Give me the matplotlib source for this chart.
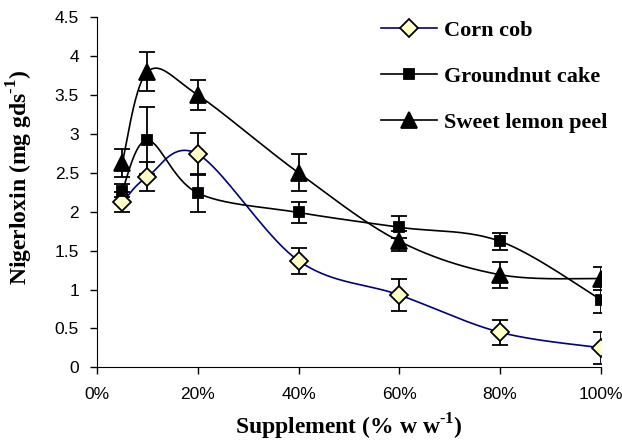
import numpy as np
import matplotlib
matplotlib.use("Agg")
import matplotlib.pyplot as plt

plt.rcParams["font.family"] = "Liberation Sans"
plt.rcParams["mathtext.fontset"] = "custom"
plt.rcParams["mathtext.rm"] = "Liberation Serif:bold"
plt.rcParams["mathtext.bf"] = "Liberation Serif:bold"

supplement = [5, 10, 20, 40, 60, 80, 100]

corn_cob = [2.12, 2.45, 2.74, 1.37, 0.93, 0.45, 0.25]
corn_cob_err = [0.13, 0.19, 0.27, 0.17, 0.21, 0.16, 0.21]

groundnut = [2.27, 2.92, 2.24, 1.99, 1.80, 1.62, 0.87]
groundnut_err = [0.08, 0.43, 0.25, 0.14, 0.14, 0.11, 0.17]

lemon = [2.63, 3.80, 3.50, 2.50, 1.62, 1.19, 1.14]
lemon_err = [0.18, 0.25, 0.19, 0.24, 0.13, 0.17, 0.15]


def smooth(x, y, n=40):
    # catmull-rom through the points, like excel's smoothed line
    px = np.array(x, float) / 100.0
    py = np.array(y, float) / 4.5 * 0.8
    pts = np.column_stack([px, py])
    pts = np.vstack([pts[0], pts, pts[-1]])
    out = []
    for i in range(1, len(pts) - 2):
        p0, p1, p2, p3 = pts[i - 1], pts[i], pts[i + 1], pts[i + 2]
        c1 = p1 + (p2 - p0) / 6.0
        c2 = p2 - (p3 - p1) / 6.0
        t = np.linspace(0, 1, n)[:, None]
        seg = (1 - t) ** 3 * p1 + 3 * (1 - t) ** 2 * t * c1 + 3 * (1 - t) * t ** 2 * c2 + t ** 3 * p2
        out.append(seg)
    out = np.vstack(out)
    return out[:, 0] * 100.0, out[:, 1] / 0.8 * 4.5


fig = plt.figure(figsize=(6.22, 4.42), dpi=100)
ax = fig.add_axes([0.156, 0.169, 0.810, 0.792])

series = [
    ("Corn cob", corn_cob, corn_cob_err, "#000080", "D", 9, "#FFFFC8"),
    ("Groundnut cake", groundnut, groundnut_err, "black", "s", 7.5, "black"),
    ("Sweet lemon peel", lemon, lemon_err, "black", "^", 11, "black"),
]

for name, vals, errs, col, mk, ms, fc in series:
    sx, sy = smooth(supplement, vals)
    ax.plot(sx, sy, color=col, lw=1.2, zorder=2)
    ax.errorbar(supplement, vals, yerr=errs, fmt="none", ecolor="black",
                elinewidth=1.3, capsize=5.5, capthick=1.3, zorder=3)
    ax.plot(supplement, vals, ls="none", marker=mk, ms=ms, mfc=fc,
            mec="black", mew=1.3, zorder=4)
    ax.plot([], [], color=col, lw=1.2, marker=mk, ms=ms, mfc=fc,
            mec="black", mew=1.3, label=name)

ax.set_xlim(0, 100)
ax.set_ylim(0, 4.5)
ax.set_xticks([0, 20, 40, 60, 80, 100])
ax.set_xticklabels(["0%", "20%", "40%", "60%", "80%", "100%"])
ax.set_yticks(np.arange(0, 4.51, 0.5))
ax.set_yticklabels(["0", "0.5", "1", "1.5", "2", "2.5", "3", "3.5", "4", "4.5"])
ax.tick_params(direction="out", length=5, width=1, labelsize=12.5)
ax.tick_params(axis="y", pad=8)
ax.tick_params(axis="x", pad=9)
for s in ["top", "right"]:
    ax.spines[s].set_visible(False)

ax.set_xlabel(r"Supplement (% w w$^{\text{-1}}$)", fontsize=17, fontweight="bold",
              family="Liberation Serif")
ax.set_ylabel(r"Nigerloxin (mg gds$^{\text{-1}}$)", fontsize=17, fontweight="bold",
              family="Liberation Serif")
ax.xaxis.set_label_coords(0.5, -0.127)
ax.yaxis.set_label_coords(-0.123, 0.542)

leg = ax.legend(loc="upper left", bbox_to_anchor=(381 / 622, 1 - 20 / 442),
                bbox_transform=fig.transFigure, frameon=False,
                borderpad=0, borderaxespad=0,
                prop={"family": "Liberation Serif", "weight": "bold", "size": 16},
                handlelength=2.5, labelspacing=1.15, handletextpad=0.35)

fig.savefig("out.png", dpi=100)
